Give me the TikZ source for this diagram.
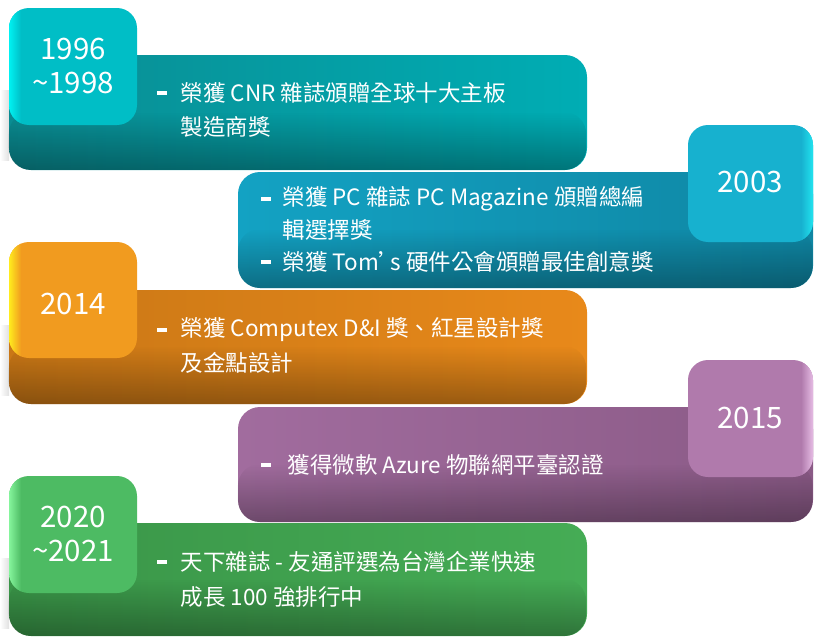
\documentclass[tikz,border=0pt]{standalone}
\usepackage{fontspec}
\setmainfont{Noto Sans CJK TC}
\usetikzlibrary{positioning,fadings}
\definecolor{tabteal}{HTML}{00BEC6}
\definecolor{bandteal}{HTML}{00ADB4}
\definecolor{darkteal}{HTML}{0A8C92}
\definecolor{hiteal}{HTML}{00F2F2}
\definecolor{tabblue}{HTML}{17B1CF}
\definecolor{bandblue}{HTML}{13A2C3}
\definecolor{darkblue}{HTML}{0F86A3}
\definecolor{hiblue}{HTML}{22E3EF}
\definecolor{taborange}{HTML}{F19B1F}
\definecolor{bandorange}{HTML}{E8891A}
\definecolor{darkorange}{HTML}{C97716}
\definecolor{hiorange}{HTML}{FFEC1E}
\definecolor{tabpurple}{HTML}{B07AAC}
\definecolor{bandpurple}{HTML}{A16C9E}
\definecolor{darkpurple}{HTML}{8A5A86}
\definecolor{hipurple}{HTML}{E6BCE4}
\definecolor{tabgreen}{HTML}{4DBB63}
\definecolor{bandgreen}{HTML}{45AC55}
\definecolor{darkgreen}{HTML}{3A9548}
\definecolor{higreen}{HTML}{85F59C}
\tikzfading[name=bandfade, top color=transparent!100, bottom color=transparent!0]
\tikzset{
  yeartext/.style={text=white, align=center, inner sep=0pt, font=\fontsize{29.5}{34}\selectfont},
  itemtext/.style={text=white, inner sep=0pt, anchor=west, font=\fontsize{22.5}{27}\selectfont},
  dashmark/.style={fill=white, inner sep=0pt, minimum width=10.5pt, minimum height=3.5pt},
  band/.style={rounded corners=22pt},
  tabbox/.style={rounded corners=20pt},
  curlshade/.style={black, opacity=0.32, path fading=bandfade},
  sideshadow/.style={left color=white, right color=black!12}
}
\begin{document}
\begin{tikzpicture}[x=1pt, y=-1pt]
\useasboundingbox (0,0) rectangle (814,637);

\shade[sideshadow] (0,90) rectangle (9,160);
\shade[band, left color=darkteal, middle color=bandteal, right color=bandteal] (9,55) rectangle (587,170);
\fill[band, curlshade] (9,112) rectangle (587,170);
\fill[tabbox, tabteal] (9,8) rectangle (137,125);
\begin{scope}
  \clip[tabbox] (9,8) rectangle (137,125);
  \shade[left color=hiteal, right color=tabteal] (9,8) rectangle (21,125);
\end{scope}
\node[yeartext] (y1996) at (73,66) {1996\\\textasciitilde1998};
\node[dashmark] (d1996) at (162,93) {};
\node[itemtext, right=13pt of d1996] (t1996a) {榮獲 CNR 雜誌頒贈全球十大主板};
\node[itemtext] (t1996b) at ([yshift=-34pt]t1996a.west) {製造商獎};

\shade[band, left color=bandblue, middle color=bandblue, right color=darkblue] (238,172) rectangle (813,288);
\fill[band, curlshade] (238,229) rectangle (813,288);
\fill[tabbox, tabblue] (688,125) rectangle (813,242);
\begin{scope}
  \clip[tabbox] (688,125) rectangle (813,242);
  \shade[left color=tabblue, right color=hiblue] (801,125) rectangle (813,242);
\end{scope}
\node[yeartext] (y2003) at (750,182) {2003};
\node[dashmark] (d2003a) at (266,199) {};
\node[itemtext, right=11pt of d2003a] (t2003a) {榮獲 PC 雜誌 PC Magazine 頒贈總編};
\node[itemtext] (t2003b) at ([yshift=-31pt]t2003a.west) {輯選擇獎};
\node[dashmark] (d2003b) at (266,262) {};
\node[itemtext, right=11pt of d2003b] (t2003c) {榮獲 Tom’\kern-11pt s 硬件公會頒贈最佳創意獎};

\shade[sideshadow] (0,325) rectangle (9,395);
\shade[band, left color=darkorange, middle color=bandorange, right color=bandorange] (9,290) rectangle (587,404);
\fill[band, curlshade] (9,346) rectangle (587,404);
\fill[tabbox, taborange] (9,242) rectangle (137,358);
\begin{scope}
  \clip[tabbox] (9,242) rectangle (137,358);
  \shade[left color=hiorange, right color=taborange] (9,242) rectangle (21,358);
\end{scope}
\node[yeartext] (y2014) at (73,304) {2014};
\node[dashmark] (d2014) at (162,330) {};
\node[itemtext, right=13pt of d2014] (t2014a) {榮獲 Computex D\&I 獎、紅星設計獎};
\node[itemtext] (t2014b) at ([yshift=-33pt]t2014a.west) {及金點設計};

\shade[band, left color=bandpurple, middle color=bandpurple, right color=darkpurple] (238,407) rectangle (813,522);
\fill[band, curlshade] (238,464) rectangle (813,522);
\fill[tabbox, tabpurple] (688,360) rectangle (813,477);
\begin{scope}
  \clip[tabbox] (688,360) rectangle (813,477);
  \shade[left color=tabpurple, right color=hipurple] (801,360) rectangle (813,477);
\end{scope}
\node[yeartext] (y2015) at (750,418) {2015};
\node[dashmark] (d2015) at (266,465) {};
\node[itemtext, right=16pt of d2015] (t2015) {獲得微軟 Azure 物聯網平臺認證};

\shade[sideshadow] (0,558) rectangle (9,628);
\shade[band, left color=darkgreen, middle color=bandgreen, right color=bandgreen] (9,523) rectangle (587,636);
\fill[band, curlshade] (9,579) rectangle (587,636);
\fill[tabbox, tabgreen] (9,476) rectangle (137,593);
\begin{scope}
  \clip[tabbox] (9,476) rectangle (137,593);
  \shade[left color=higreen, right color=tabgreen] (9,476) rectangle (21,593);
\end{scope}
\node[yeartext] (y2020) at (73,534) {2020\\\textasciitilde2021};
\node[dashmark] (d2020) at (162,562) {};
\node[itemtext, right=13pt of d2020] (t2020a) {天下雜誌 - 友通評選為台灣企業快速};
\node[itemtext] (t2020b) at ([yshift=-35pt]t2020a.west) {成長 100 強排行中};
\end{tikzpicture}
\end{document}
